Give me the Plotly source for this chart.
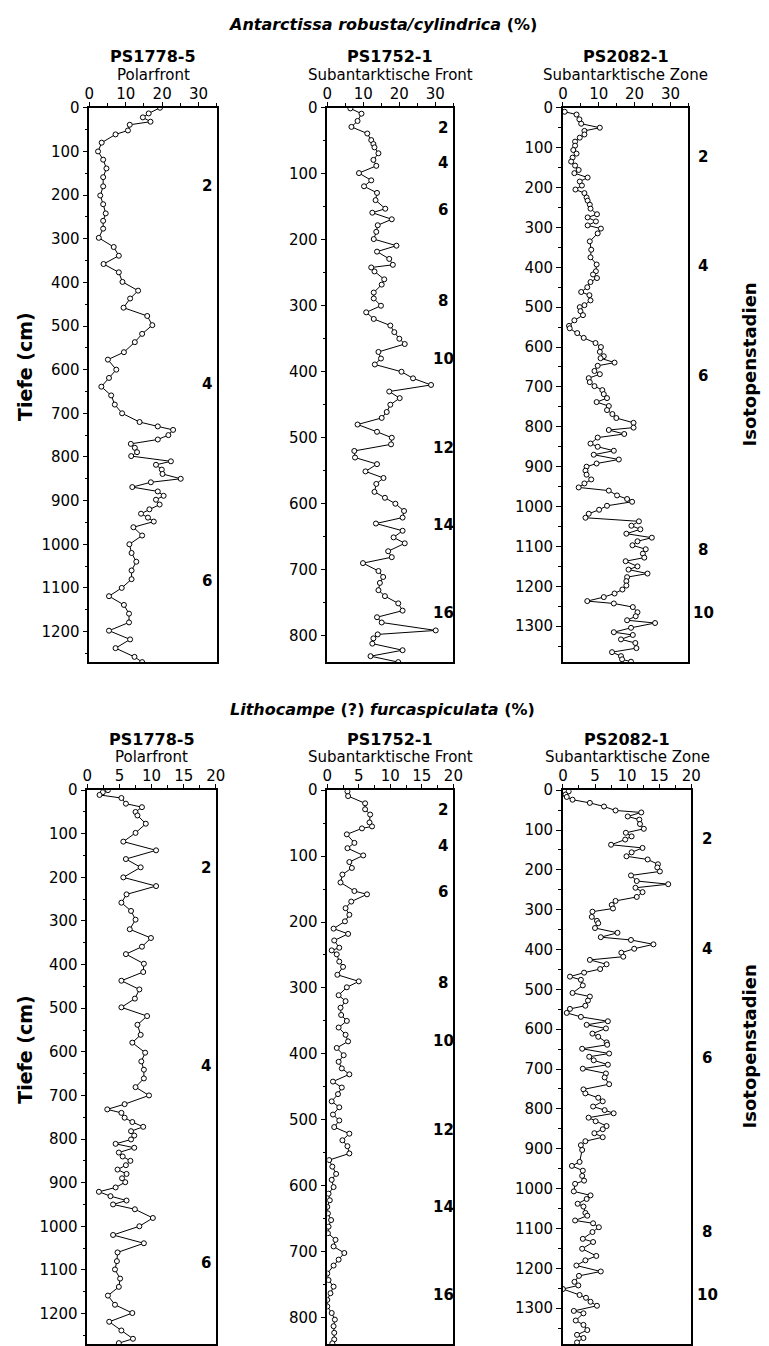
import plotly.graph_objects as go

# ---------------- Antarctissa robusta/cylindrica (%) ----------------
ar1778_depth = [0,13,22,32,39,52,61,80,100,119,139,159,180,201,221,242,259,277,298,319,
                339,358,377,399,419,437,458,477,498,518,537,560,577,600,619,639,659,680,700,720,
                730,738,750,760,770,779,789,798,810,818,829,839,850,858,869,879,889,898,909,920,
                930,939,948,961,980,1000,1020,1040,1060,1080,1100,1119,1139,1159,1179,1198,1218,1238,1258,1270]
ar1778_pct = [19.4,16.3,14.7,16.8,11.1,10.6,7.2,3.4,2.4,3.8,4.7,3.8,3.8,3.0,3.8,4.5,3.8,3.8,2.6,6.7,
              8.1,3.9,8.1,9.1,13.4,11.2,9.4,15.9,17.3,14.5,12.5,9.5,5.1,7.4,5.4,3.3,6.0,7.0,9.0,13.8,
              18.8,23.0,21.7,18.8,11.4,12.5,13.1,11.5,22.4,18.3,19.9,20.1,25.1,16.9,11.8,18.8,20.4,18.3,19.3,16.5,
              14.2,16.1,17.7,12.1,14.5,11.0,11.6,12.9,11.6,11.6,8.9,5.4,9.5,10.9,10.9,5.4,11.2,7.2,12.4,14.5]

ar1752_depth = [1,9,20,29,39,49,55,60,69,79,88,99,110,119,129,140,153,159,169,178,
                188,199,209,218,229,238,242,248,260,268,280,289,300,310,320,330,340,350,358,370,
                380,389,400,410,420,430,440,450,461,470,480,491,500,510,520,530,540,551,561,570,
                582,591,600,611,621,630,641,651,660,672,681,690,702,711,720,731,740,751,762,772,
                780,792,798,804,812,822,831,840]
ar1752_pct = [6.4,9.5,8.4,6.7,11.1,12.2,12.8,13.1,14.2,12.8,13.6,8.8,12.2,10.2,13.8,13.4,16.1,12.5,17.9,14.0,
              13.6,12.9,19.2,13.8,17.2,18.2,12.2,13.1,15.8,15.1,12.9,12.9,14.9,10.8,12.9,17.5,18.6,20.0,21.5,14.2,
              14.9,13.2,20.6,23.8,28.8,17.2,20.1,17.5,16.5,15.1,8.4,13.8,17.9,17.7,7.5,7.7,13.8,10.6,15.6,13.6,
              13.1,16.0,18.9,21.3,20.9,13.5,20.9,18.4,21.5,16.9,17.9,9.9,14.2,15.5,14.6,14.2,16.0,19.7,20.9,13.8,
              15.1,30.1,14.0,12.8,12.5,20.9,12.0,19.7]

ar2082_depth = [10,17,29,40,50,58,67,75,85,95,106,115,125,135,145,156,164,175,185,195,
                205,214,225,233,243,253,267,275,285,295,303,315,335,356,375,393,410,418,427,437,
                450,462,470,483,495,500,510,520,533,547,553,565,577,590,600,612,623,628,639,647,
                660,668,678,688,698,708,718,728,738,748,758,768,778,790,802,808,818,827,842,850,
                860,870,882,892,900,910,920,932,942,952,960,972,981,988,998,1008,1018,1028,1037,1048,
                1057,1068,1078,1087,1097,1107,1118,1128,1137,1150,1158,1168,1177,1187,1198,1208,1218,1227,1237,1243,
                1252,1265,1275,1285,1292,1304,1315,1322,1333,1342,1355,1365,1375,1383,1389]
ar2082_pct = [0.5,3.8,4.6,5.1,10.3,6.0,6.0,4.7,3.4,3.4,2.9,3.8,2.7,2.3,3.4,4.4,3.2,6.9,4.7,5.3,
              3.5,6.0,6.6,6.9,7.5,7.7,9.5,6.9,9.2,6.9,10.6,9.7,7.5,7.9,7.7,9.4,9.2,8.4,9.5,7.7,
              6.8,5.1,7.4,7.7,6.0,4.7,4.9,5.6,3.2,1.7,1.9,4.0,5.8,9.1,10.6,10.3,11.4,10.5,14.4,9.7,
              8.8,10.3,7.2,7.5,8.8,11.0,11.4,12.3,9.4,12.8,12.3,13.8,14.9,19.7,19.7,12.8,17.1,9.7,7.7,9.7,
              14.2,8.6,15.6,9.4,6.6,6.3,6.6,7.9,6.0,4.4,12.8,15.1,17.9,19.3,12.3,10.1,7.2,6.3,21.2,19.1,
              21.6,17.7,24.8,20.8,19.4,23.1,22.3,22.7,17.5,20.8,18.3,23.6,17.9,17.7,17.7,16.6,14.4,11.4,6.8,14.2,
              19.5,20.8,20.3,17.9,25.7,19.0,14.2,19.5,16.2,20.2,20.5,13.7,16.2,16.5,19.0]

# ---------------- Lithocampe (?) furcaspiculata (%) ----------------
lf1778_depth = [0,5,11,18,31,39,50,58,77,98,118,138,158,177,200,220,239,258,277,297,
                319,339,359,376,398,417,437,457,478,498,518,538,561,579,602,622,641,661,681,700,
                720,732,740,751,761,772,782,792,801,811,820,831,840,850,860,870,880,890,899,911,
                921,931,941,950,961,981,1000,1020,1039,1060,1080,1099,1120,1139,1159,1180,1199,1219,1239,1258,1268]
lf1778_pct = [3.2,2.4,1.9,5.3,6.0,8.5,7.5,7.8,9.1,7.5,5.6,10.7,6.0,8.3,5.6,10.7,6.1,5.3,6.8,7.5,
              6.6,9.9,8.5,6.0,8.8,8.7,5.3,8.1,7.4,5.3,9.3,7.8,8.3,7.0,9.0,8.4,8.8,8.8,7.5,9.6,
              5.8,3.1,5.3,5.8,7.0,8.7,6.8,7.3,6.8,4.4,7.3,4.9,5.5,6.7,6.0,4.7,6.1,5.4,5.9,4.4,
              1.8,3.6,6.1,4.0,7.4,10.2,8.1,4.0,8.8,4.7,4.6,4.3,5.1,4.9,3.2,4.3,7.0,3.4,5.3,7.1,4.9]

lf1752_depth = [2,9,20,29,37,49,55,58,67,80,88,99,109,118,128,140,153,158,169,179,
                189,199,210,218,228,239,243,249,260,268,280,290,299,311,320,330,341,350,360,371,
                381,391,402,412,422,431,442,451,461,472,481,492,501,511,521,531,540,551,561,571,
                582,591,602,612,622,632,642,652,662,672,682,692,702,712,721,733,743,753,763,773,
                783,793,803,813,823,833,839]
lf1752_pct = [3.2,3.3,6.0,6.0,6.8,6.7,7.1,5.5,3.1,4.3,3.2,5.7,3.5,3.9,2.4,2.1,4.3,6.3,3.8,2.9,
              3.5,2.8,1.0,3.3,1.1,1.9,0.7,1.5,1.9,2.5,1.6,5.0,3.1,1.8,2.9,2.1,2.2,3.1,1.8,2.9,
              3.3,1.5,2.6,1.8,2.3,3.5,0.9,2.3,1.7,0.7,1.9,0.9,1.9,1.1,3.5,2.4,3.2,3.5,0.3,0.8,
              1.4,0.7,1.0,0.2,0.4,0.0,0.1,0.6,0.2,0.1,1.3,1.0,2.7,1.8,1.0,0.0,0.2,1.0,0.5,0.0,
              0.0,0.7,1.2,1.0,1.1,1.1,0.8]

lf2082_depth = [3,11,17,24,32,41,51,56,66,74,85,97,107,116,124,137,145,156,166,174,
                186,194,204,214,228,236,245,256,268,278,288,297,305,318,328,334,346,358,369,376,
                387,398,408,418,426,437,449,458,468,476,490,509,518,528,541,549,559,569,580,589,
                598,611,619,633,639,649,661,669,678,689,699,711,721,738,751,761,772,781,794,803,
                811,822,831,843,851,861,871,881,891,903,933,943,955,968,980,988,1007,1017,1026,1038,
                1045,1061,1068,1080,1087,1097,1109,1126,1134,1151,1169,1180,1193,1208,1219,1234,1243,1252,1267,1274,
                1284,1294,1307,1313,1331,1342,1355,1367,1375,1386]
lf2082_pct = [0.9,0.4,0.6,1.5,4.2,6.4,8.2,12.2,10.1,11.9,12.0,12.6,9.8,10.7,9.7,7.5,12.4,10.7,9.9,13.2,
              14.8,14.7,15.1,10.6,11.5,16.4,11.3,12.4,11.5,8.2,7.6,7.8,4.6,4.5,5.3,5.5,5.0,8.5,5.9,10.6,
              14.1,11.1,9.1,9.4,4.2,6.8,5.8,3.3,1.1,2.8,3.1,1.5,4.2,3.9,3.5,1.1,0.6,2.8,7.0,3.7,
              6.7,4.6,5.5,6.8,6.9,3.0,7.2,4.1,4.8,7.0,3.1,6.7,6.5,7.2,3.2,3.5,5.5,6.2,4.7,6.5,
              7.9,4.0,5.1,6.8,6.2,4.9,6.2,3.5,2.8,3.0,2.6,1.4,3.1,3.0,3.3,1.9,1.7,4.3,3.7,2.3,
              3.2,3.5,3.8,1.9,4.7,5.6,4.6,3.1,4.7,3.0,5.2,3.5,2.1,5.9,2.5,1.8,2.4,0.0,2.6,3.6,
              4.3,5.3,1.7,3.2,2.0,3.2,3.8,2.2,3.2,2.2]

# panel labels
stations = ["PS1778-5", "PS1752-1", "PS2082-1"]
zones = ["Polarfront", "Subantarktische Front", "Subantarktische Zone"]
depth_max = [1270, 840, 1390]

# isotope stage labels (stage, depth cm)
stages_1778 = [("2", 179), ("4", 633), ("6", 1085)]
stages_1752 = [("2", 30), ("4", 84), ("6", 155), ("8", 293), ("10", 380), ("12", 515), ("14", 632), ("16", 766)]
stages_2082 = [("2", 123), ("4", 398), ("6", 673), ("8", 1108), ("10", 1268)]

W, H = 769, 1346
FONT = "DejaVu Sans"

def px(x):
    return x / W

def py(y):
    return 1 - y / H

# pixel geometry of the plot frames
top_rows = (99.5, 658)
bot_rows = (787, 1345)
xpix_top = [(86, 216), (328.7, 457.3), (569, 697)]
xpix_bot = [(84, 215), (328.7, 457.3), (569, 700)]

fig = go.Figure()

series = [
    (ar1778_depth, ar1778_pct), (ar1752_depth, ar1752_pct), (ar2082_depth, ar2082_pct),
    (lf1778_depth, lf1778_pct), (lf1752_depth, lf1752_pct), (lf2082_depth, lf2082_pct),
]

layout = {}
for i, (d, v) in enumerate(series):
    n = i + 1
    row = i // 3
    col = i % 3
    xs = "x" if n == 1 else f"x{n}"
    ys = "y" if n == 1 else f"y{n}"
    fig.add_trace(go.Scatter(
        x=v, y=d, xaxis=xs, yaxis=ys, mode="lines+markers",
        line=dict(color="black", width=1),
        marker=dict(symbol="circle", size=5, color="white", line=dict(color="black", width=1)),
        showlegend=False, cliponaxis=True,
    ))
    xr = (0, 35) if row == 0 else (0, 20)
    xdt = 10 if row == 0 else 5
    xmdt = 5 if row == 0 else 2.5
    xp = xpix_top[col] if row == 0 else xpix_bot[col]
    yp = top_rows if row == 0 else bot_rows
    layout[f"xaxis{n}"] = dict(
        domain=[px(xp[0]), px(xp[1])], range=list(xr), anchor=ys, side="top",
        showline=True, linecolor="black", linewidth=1.5, mirror=True,
        ticks="outside", ticklen=4, tickwidth=1.2, tickcolor="black",
        ticklabelstandoff=-3,
        tick0=0, dtick=xdt, minor=dict(ticks="outside", dtick=xmdt, ticklen=3, tickcolor="black", tickwidth=1),
        showgrid=False, zeroline=False, fixedrange=True,
        tickfont=dict(family=FONT, size=15, color="black"),
    )
    layout[f"yaxis{n}"] = dict(
        domain=[py(yp[1]), py(yp[0])], range=[depth_max[col], 0], anchor=xs,
        showline=True, linecolor="black", linewidth=1.5, mirror=True,
        ticks="outside", ticklen=5, tickwidth=1.2, tickcolor="black",
        tick0=0, dtick=100, minor=dict(ticks="outside", dtick=50, ticklen=3, tickcolor="black", tickwidth=1),
        showgrid=False, zeroline=False, fixedrange=True,
        tickfont=dict(family=FONT, size=15, color="black"),
    )

annotations = []

def note(text, x, y, size, yref="paper", angle=0):
    annotations.append(dict(text=text, x=x, y=y, xref="paper", yref=yref, showarrow=False,
                            xanchor="center", yanchor="middle", textangle=angle,
                            font=dict(family=FONT, size=size, color="black")))

# main titles
note("<b><i>Antarctissa robusta/cylindrica</i> (%)</b>", px(385), py(16), 16)
note("<b><i>Lithocampe</i> (?) <i>furcaspiculata</i> (%)</b>", px(385), py(706), 16)

for row in range(2):
    xpix = xpix_top if row == 0 else xpix_bot
    yst = 48 if row == 0 else 736
    ysub = 66 if row == 0 else 754
    for col in range(3):
        cx = (xpix[col][0] + xpix[col][1]) / 2
        note(f"<b>{stations[col]}</b>", px(cx), py(yst), 16)
        note(zones[col], px(cx), py(ysub), 15)
    note("<b>Tiefe (cm)</b>", px(21), py(360 if row == 0 else 1048), 19, angle=-90)
    note("<b>Isotopenstadien</b>", px(759), py(358 if row == 0 else 1045), 18, angle=-90)

stage_sets = [stages_1778, stages_1752, stages_2082]
stage_x_top = [206, 447, 712]
stage_x_bot = [205, 447, 716]
for i in range(6):
    row = i // 3
    col = i % 3
    ys = "y" if i == 0 else f"y{i+1}"
    sx = stage_x_top[col] if row == 0 else stage_x_bot[col]
    for lab, dep in stage_sets[col]:
        note(f"<b>{lab}</b>", px(sx), dep, 15, yref=ys)

fig.update_layout(
    width=W, height=H, margin=dict(l=0, r=0, t=0, b=0),
    paper_bgcolor="white", plot_bgcolor="white",
    annotations=annotations, showlegend=False,
    **layout,
)

fig.write_html("out.html", post_script="document.body.style.margin='0';")
